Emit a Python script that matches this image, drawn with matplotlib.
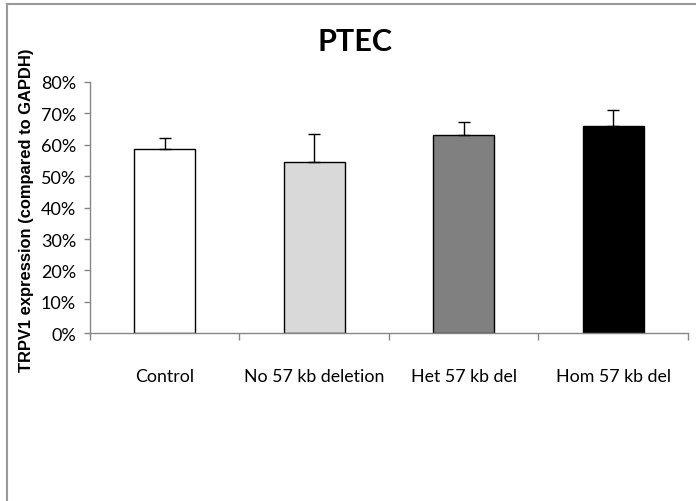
import matplotlib
matplotlib.use("Agg")
import matplotlib.pyplot as plt
from matplotlib.ticker import FuncFormatter, MultipleLocator
from matplotlib.lines import Line2D

# Data
groups = ["Control", "No 57 kb deletion", "Het 57 kb del", "Hom 57 kb del"]
expression = [0.587, 0.545, 0.631, 0.659]
error_up = [0.035, 0.090, 0.043, 0.051]
bar_colors = ["#ffffff", "#d9d9d9", "#808080", "#000000"]

plt.rcParams["font.family"] = ["Lato", "DejaVu Sans"]

fig = plt.figure(figsize=(6.96, 5.02), dpi=100)
ax = fig.add_axes([0.1293, 0.334, 0.8592, 0.5007])

x = list(range(len(groups)))
ax.bar(x, expression, width=0.41, color=bar_colors, edgecolor="black", linewidth=1.0, zorder=2)
ax.errorbar(x, expression, yerr=[[0] * len(x), error_up], fmt="none",
            ecolor="black", elinewidth=1.0, capsize=4, capthick=1.0, zorder=3)

ax.set_xlim(-0.5, len(groups) - 0.5)
ax.set_ylim(0, 0.8)
ax.yaxis.set_major_locator(MultipleLocator(0.1))
ax.yaxis.set_major_formatter(FuncFormatter(lambda v, p: f"{v * 100:.0f}%"))

# category labels centred, ticks at boundaries
ax.set_xticks(x)
ax.set_xticklabels(groups, fontsize=12.8)
ax.tick_params(axis="x", length=0, pad=25)
ax.set_xticks([i - 0.5 for i in range(len(groups) + 1)], minor=True)
ax.tick_params(axis="x", which="minor", length=5, color="#868686", width=1)
ax.tick_params(axis="y", length=4, color="#868686", width=1, labelsize=13, pad=6)

for side in ["top", "right"]:
    ax.spines[side].set_visible(False)
for side in ["left", "bottom"]:
    ax.spines[side].set_color("#868686")
    ax.spines[side].set_linewidth(1)

ax.set_ylabel("TRPV1 expression (compared to GAPDH)", fontsize=11.9, fontweight="bold",
              family=["Liberation Sans", "DejaVu Sans"])
ax.yaxis.set_label_coords(-0.094, 0.493)

fig.text(0.51, 1 - 42 / 502, "PTEC", fontsize=22, fontweight="bold", ha="center", va="center")

# chart frame (top and left edges visible)
fig.add_artist(Line2D([7 / 696, 7 / 696], [0, 1 - 5 / 502], transform=fig.transFigure, color="#999999", lw=1.5))
fig.add_artist(Line2D([7 / 696, 1], [1 - 5 / 502, 1 - 5 / 502], transform=fig.transFigure, color="#999999", lw=1.5))

fig.savefig("out.png", dpi=100)
